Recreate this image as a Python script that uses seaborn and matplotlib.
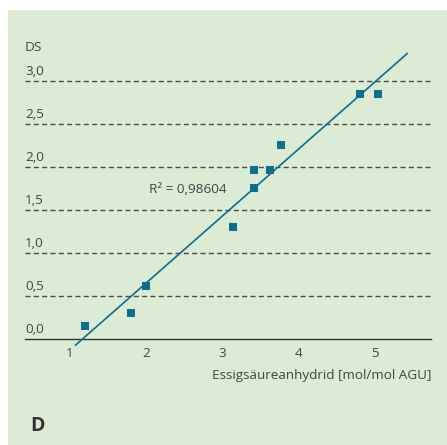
import numpy as np
import pandas as pd
import matplotlib
matplotlib.use("Agg")
import matplotlib.pyplot as plt
import seaborn as sns
from matplotlib.patches import Rectangle

# --- Data ---
essig = [1.2, 1.8, 2.0, 3.13, 3.41, 3.41, 3.62, 3.76, 4.8, 5.03]
ds = [0.15, 0.30, 0.62, 1.30, 1.76, 1.96, 1.96, 2.26, 2.85, 2.85]
y_ticks = [0.0, 0.5, 1.0, 1.5, 2.0, 2.5, 3.0]
y_labels = ["0,0", "0,5", "1,0", "1,5", "2,0", "2,5", "3,0"]
x_ticks = [1, 2, 3, 4, 5]
fit_range = [1.07, 5.42]
r2_text = "R² = 0,98604"

GREEN = "#dcebd4"
BLUE = "#0b6f8e"
TXT = "#444444"
FS = 9.7

sns.set_theme(style="white")
plt.rcParams["font.family"] = ["Open Sans", "DejaVu Sans"]

df = pd.DataFrame({"x": essig, "y": ds})

fig = plt.figure(figsize=(4.47, 4.45), dpi=100)
fig.patch.set_facecolor("white")
fig.add_artist(Rectangle((8 / 447, 0), 1, 435 / 445, transform=fig.transFigure,
                         facecolor=GREEN, edgecolor="none", zorder=-10))

ax = fig.add_axes([25 / 447, 106 / 445, 406 / 447, 292 / 445])
ax.set_facecolor("none")

# dashed gridlines (not for 0, which is the axis)
for yv in y_ticks[1:]:
    ax.axhline(yv, color="#4a4a4a", lw=1.0, ls=(0, (3.6, 2.4)), zorder=1)

# regression line
slope, intercept = np.polyfit(essig, ds, 1)
lx = np.array(fit_range)
sns.lineplot(x=lx, y=slope * lx + intercept, color=BLUE, lw=1.2, ax=ax,
             clip_on=False, zorder=3)

sns.scatterplot(data=df, x="x", y="y", marker="s", s=32, color=BLUE,
                linewidth=0, ax=ax, zorder=4)

ax.set_xlim(0.41, 5.73)
ax.set_ylim(0, 3.395)

for sp in ["top", "right", "left"]:
    ax.spines[sp].set_visible(False)
ax.spines["bottom"].set_color("#333333")
ax.spines["bottom"].set_linewidth(1.0)

ax.set_xticks(x_ticks)
ax.set_xticklabels([str(v) for v in x_ticks], fontsize=FS, color=TXT)
ax.tick_params(axis="x", direction="out", length=4, width=0.8, color="#333333", pad=2)
ax.set_yticks([])
ax.set_xlabel("")
ax.set_ylabel("")

for yv, lab in zip(y_ticks, y_labels):
    ax.text(0.0, yv + 0.03, lab, transform=ax.get_yaxis_transform(),
            ha="left", va="bottom", fontsize=FS, color=TXT)

ax.text(0.0, 3.31, "DS", transform=ax.get_yaxis_transform(), ha="left",
        va="bottom", fontsize=FS, color=TXT)

ax.text(2.54, 1.74, r2_text, ha="center", va="center", fontsize=FS, color=TXT)

fig.text(431 / 447, 1 - 376 / 445, "Essigsäureanhydrid [mol/mol AGU]",
         ha="right", va="center", fontsize=FS, color=TXT)
fig.text(30 / 447, 1 - 426 / 445, "D", ha="left", va="center", fontsize=14,
         fontweight="bold", color="#333333")

fig.savefig("out.png", dpi=100, facecolor=fig.get_facecolor())
